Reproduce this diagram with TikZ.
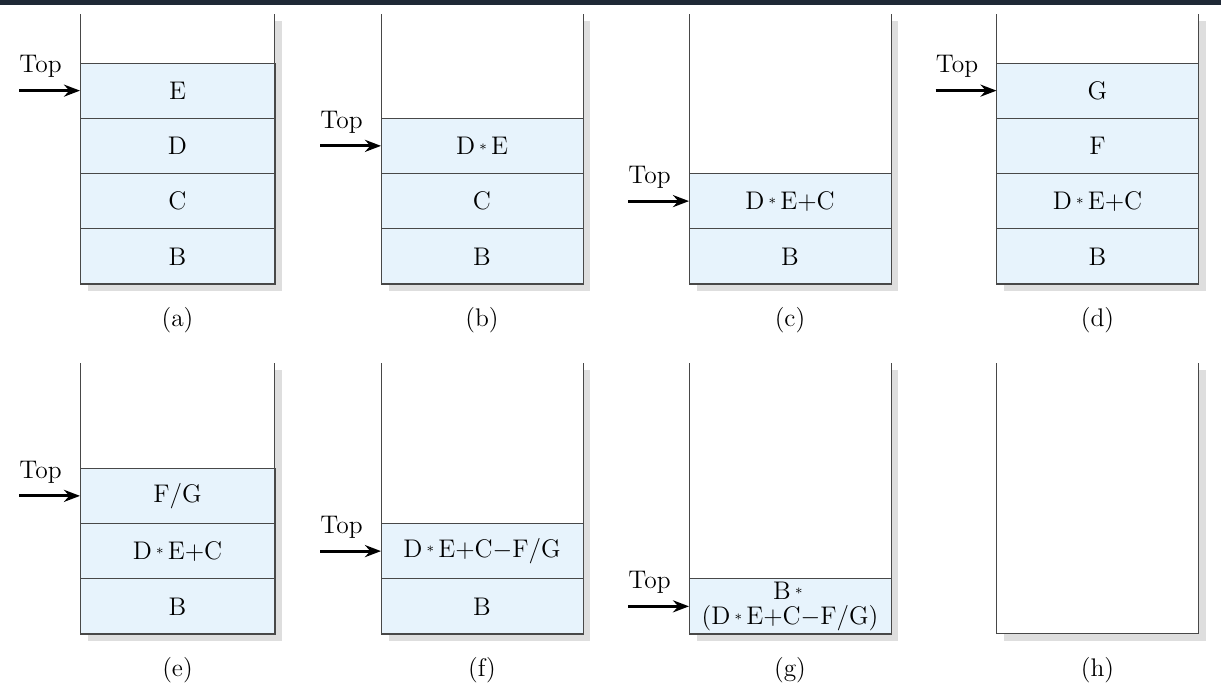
\documentclass[tikz,border=0pt]{standalone}
\usepackage{amsmath,amssymb}
\usepackage{xcolor}
\usepackage{tikz}
\usetikzlibrary{arrows.meta,positioning,calc,shadows}
\definecolor{cellblue}{RGB}{231, 243, 252}
\definecolor{wallgray}{RGB}{72, 72, 72}
\definecolor{shadowgray}{RGB}{222, 222, 222}
\definecolor{barnavy}{RGB}{31, 41, 54}
\newcommand{\lbl}{\fontsize{14.5}{17}\selectfont}
\newcommand{\mul}{\,\raisebox{2.6pt}{\fontsize{8}{8}\selectfont$\ast$}\,}

\begin{document}
\begin{tikzpicture}[x=0.02cm, y=-0.02cm,
  stack/.style={rectangle, fill=white, inner sep=0pt, outer sep=0pt, minimum width=4.04cm, minimum height=5.4cm, drop shadow={opacity=1, fill=shadowgray, shadow xshift=0.15cm, shadow yshift=-0.14cm}},
  cell/.style={rectangle, draw=wallgray, fill=cellblue, line width=0.5pt, inner sep=0pt, outer sep=0pt, minimum width=4.04cm, minimum height=1.105cm, font=\lbl, align=center},
  wall/.style={draw=wallgray, line width=0.55pt},
  toplabel/.style={font=\lbl, inner sep=0pt},
  toparrow/.style={-{Stealth[length=3.2mm,width=2.4mm]}, line width=1.7pt},
  caption/.style={font=\lbl}
]
\useasboundingbox (0,0) rectangle (1221,688);
\fill[barnavy] (0,0) rectangle (1221,5);

% Top row: stacks (a)-(d)
\node[stack, minimum width=3.9cm] (sa) at (177.5,149) {};
\node[stack] (sb) at (482,149) {};
\node[stack] (sc) at (790,149) {};
\node[stack] (sd) at (1097.5,149) {};

% Bottom row: stacks (e)-(h)
\node[stack, minimum width=3.9cm, minimum height=5.42cm] (se) at (177.5,498.5) {};
\node[stack, minimum height=5.42cm] (sf) at (482,498.5) {};
\node[stack, minimum height=5.42cm] (sg) at (790,498.5) {};
\node[stack, minimum height=5.42cm] (sh) at (1097.5,498.5) {};

% (a)
\node[cell, minimum width=3.9cm, anchor=south] (a1) at (sa.south) {B};
\node[cell, minimum width=3.9cm, above=0pt of a1] (a2) {C};
\node[cell, minimum width=3.9cm, above=0pt of a2] (a3) {D};
\node[cell, minimum width=3.9cm, above=0pt of a3] (a4) {E};

% (b)
\node[cell, anchor=south] (b1) at (sb.south) {B};
\node[cell, above=0pt of b1] (b2) {C};
\node[cell, above=0pt of b2] (b3) {D\mul E};

% (c)
\node[cell, anchor=south] (c1) at (sc.south) {B};
\node[cell, above=0pt of c1] (c2) {D\mul E+C};

% (d)
\node[cell, anchor=south] (d1) at (sd.south) {B};
\node[cell, above=0pt of d1] (d2) {D\mul E+C};
\node[cell, above=0pt of d2] (d3) {F};
\node[cell, above=0pt of d3] (d4) {G};

% (e)
\node[cell, minimum width=3.9cm, anchor=south] (e1) at (se.south) {B};
\node[cell, minimum width=3.9cm, above=0pt of e1] (e2) {D\mul E+C};
\node[cell, minimum width=3.9cm, above=0pt of e2] (e3) {F/G};

% (f)
\node[cell, anchor=south] (f1) at (sf.south) {B};
\node[cell, above=0pt of f1] (f2) {D\mul E+C$-$F/G};

% (g)
\node[cell, anchor=south] (g1) at (sg.south) {B\mul\\[-2.5pt](D\mul E+C$-$F/G)};

% walls, open at the top
\foreach \s in {sa,sb,sc,sd,se,sf,sg,sh}
  \draw[wall] (\s.north west) -- (\s.south west) -- (\s.south east) -- (\s.north east);

% Top pointers
\coordinate[left=1.22cm of a4.west] (pa);
\coordinate[left=1.22cm of b3.west] (pb);
\coordinate[left=1.22cm of c2.west] (pc);
\coordinate[left=1.22cm of d4.west] (pd);
\coordinate[left=1.22cm of e3.west] (pe);
\coordinate[left=1.22cm of f2.west] (pf);
\coordinate[left=1.22cm of g1.west] (pg);
\draw[toparrow] (pa) -- (a4.west);
\draw[toparrow] (pb) -- (b3.west);
\draw[toparrow] (pc) -- (c2.west);
\draw[toparrow] (pd) -- (d4.west);
\draw[toparrow] (pe) -- (e3.west);
\draw[toparrow] (pf) -- (f2.west);
\draw[toparrow] (pg) -- (g1.west);
\node[toplabel, above right=0.25cm and 0cm of pa] (ta) {Top};
\node[toplabel, above right=0.25cm and 0cm of pb] (tb) {Top};
\node[toplabel, above right=0.25cm and 0cm of pc] (tc) {Top};
\node[toplabel, above right=0.25cm and 0cm of pd] (td) {Top};
\node[toplabel, above right=0.25cm and 0cm of pe] (te) {Top};
\node[toplabel, above right=0.25cm and 0cm of pf] (tf) {Top};
\node[toplabel, above right=0.25cm and 0cm of pg] (tg) {Top};

% Captions
\node[caption, below=0.34cm of sa] (la) {(a)};
\node[caption, below=0.34cm of sb] (lb) {(b)};
\node[caption, below=0.34cm of sc] (lc) {(c)};
\node[caption, below=0.34cm of sd] (ld) {(d)};
\node[caption, below=0.34cm of se] (le) {(e)};
\node[caption, below=0.34cm of sf] (lf) {(f)};
\node[caption, below=0.34cm of sg] (lg) {(g)};
\node[caption, below=0.34cm of sh] (lh) {(h)};

\end{tikzpicture}
\end{document}
